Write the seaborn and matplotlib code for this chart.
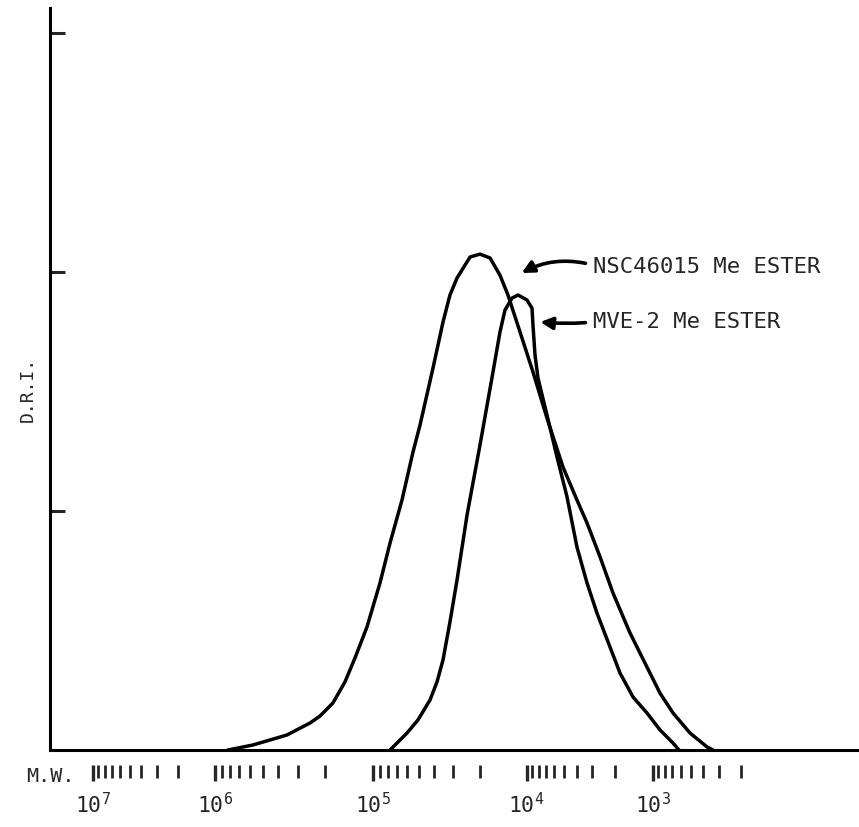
import numpy as np
import pandas as pd
import matplotlib
matplotlib.use("Agg")
import matplotlib.pyplot as plt
import seaborn as sns

# GPC traces: elution position (chart units, 0-100) vs detector response
nsc_elution = [22.00, 25.09, 29.30, 32.14, 33.37, 34.98, 36.46, 37.70, 39.18, 40.79,
               42.03, 43.51, 44.87, 45.74, 47.34, 48.58, 49.44, 50.31, 51.92, 53.15,
               54.39, 55.62, 56.61, 58.10, 59.70, 61.43, 63.41, 65.14, 66.38,
               67.99, 69.59, 71.69, 73.79, 75.40, 77.01, 79.11, 81.21, 81.95]
nsc_dri = [0, 0.021, 0.063, 0.113, 0.142, 0.197, 0.285, 0.385, 0.515, 0.699,
           0.866, 1.046, 1.247, 1.360, 1.598, 1.791, 1.904, 1.975, 2.063, 2.075,
           2.059, 1.987, 1.904, 1.749, 1.582, 1.389, 1.184, 1.046, 0.950,
           0.808, 0.657, 0.490, 0.347, 0.238, 0.155, 0.071, 0.013, 0]

mve_elution = [42.03, 44.13, 45.49, 46.97, 47.84, 48.58, 49.44, 50.31, 51.55, 53.15,
               54.76, 55.62, 56.24, 57.11, 57.85, 58.96, 59.58, 59.70, 59.95, 60.32,
               61.43, 62.67, 63.91, 65.14, 66.38, 67.61, 69.22, 70.46, 72.06, 73.79,
               75.40, 77.01, 77.75]
mve_dri = [0, 0.071, 0.126, 0.209, 0.285, 0.377, 0.536, 0.711, 0.983, 1.276,
           1.582, 1.749, 1.841, 1.891, 1.904, 1.883, 1.849, 1.778, 1.653, 1.556,
           1.402, 1.226, 1.059, 0.849, 0.699, 0.573, 0.431, 0.322, 0.222, 0.155,
           0.084, 0.029, 0]

# molecular weight calibration: log10(M.W.) of each decade and its elution position
calib_logmw = [7, 6, 5, 4, 3]
calib_elution = [5.3, 20.4, 39.9, 58.9, 74.5]

nsc_label = "NSC46015 Me ESTER"
mve_label = "MVE-2 Me ESTER"

df = pd.concat([
    pd.DataFrame({"elution": nsc_elution, "dri": nsc_dri, "sample": nsc_label}),
    pd.DataFrame({"elution": mve_elution, "dri": mve_dri, "sample": mve_label}),
], ignore_index=True)

sns.set_style("white")
plt.rcParams["font.family"] = ["DejaVu Sans Mono", "DejaVu Sans"]
plt.rcParams["mathtext.default"] = "regular"

fig = plt.figure(figsize=(8.59, 8.27), dpi=100)
ax = fig.add_axes([50 / 859, 77 / 827, 809 / 859, 742 / 827])

for name, grp in df.groupby("sample", sort=False):
    sns.lineplot(data=grp, x="elution", y="dri", ax=ax, color="black", lw=2.5,
                 estimator=None, sort=False, legend=False)

ax.set_xlim(0, 100)
ax.set_ylim(0, 3.105)
ax.set_xlabel("")
ax.set_ylabel("")
ax.set_xticks([])
ax.set_yticks([1, 2, 3])
ax.tick_params(axis="y", direction="in", length=11, width=2.2, labelleft=False, left=True)
for side in ["top", "right"]:
    ax.spines[side].set_visible(False)
for side in ["left", "bottom"]:
    ax.spines[side].set_linewidth(2.2)
    ax.spines[side].set_color("black")


def lin_extrap(x, xp, fp):
    # piecewise linear calibration, continued past both ends
    x = np.asarray(x, dtype=float)
    xp = np.asarray(xp, dtype=float)
    fp = np.asarray(fp, dtype=float)
    y = np.interp(x, xp, fp)
    lo = (fp[1] - fp[0]) / (xp[1] - xp[0])
    hi = (fp[-1] - fp[-2]) / (xp[-1] - xp[-2])
    y = np.where(x < xp[0], fp[0] + (x - xp[0]) * lo, y)
    y = np.where(x > xp[-1], fp[-1] + (x - xp[-1]) * hi, y)
    return y


def elution_to_logmw(x):
    return lin_extrap(x, calib_elution, calib_logmw)


def logmw_to_elution(m):
    return lin_extrap(m, calib_logmw[::-1], calib_elution[::-1])


# M.W. scale under the axis
sec = ax.secondary_xaxis(-0.0202, functions=(elution_to_logmw, logmw_to_elution))
sec.spines["bottom"].set_visible(False)
minor_logs = [np.log10(k) + n - 1 for n in calib_logmw for k in range(2, 10)]
sec.set_xticks(calib_logmw, labels=[f"$10^{{{n}}}$" for n in calib_logmw])
sec.set_xticks(minor_logs, minor=True)
sec.tick_params(which="major", direction="out", length=11.5, width=2.4, pad=8, labelsize=15.5)
sec.tick_params(which="minor", direction="out", length=9, width=2.0)

fig.text(50 / 859, 1 - 777 / 827, "M.W.", ha="center", va="center", fontsize=14.5)
fig.text(28 / 859, 1 - 389 / 827, "D.R.I.", ha="center", va="center", rotation=90, fontsize=13)

arrow = dict(arrowstyle="-|>", color="black", lw=2.6, mutation_scale=18,
             connectionstyle="arc3,rad=0.2", shrinkA=3, shrinkB=0, relpos=(0, 0.6))
ax.annotate(nsc_label, xy=(58.3, 1.996), xytext=(67.1, 2.021), ha="left", va="center",
            fontsize=16, arrowprops=arrow)
ax.annotate(mve_label, xy=(60.6, 1.791), xytext=(67.1, 1.791), ha="left", va="center",
            fontsize=16, arrowprops=dict(arrow, connectionstyle="arc3,rad=-0.05", relpos=(0, 0.5)))

fig.savefig("out.png", dpi=100)
